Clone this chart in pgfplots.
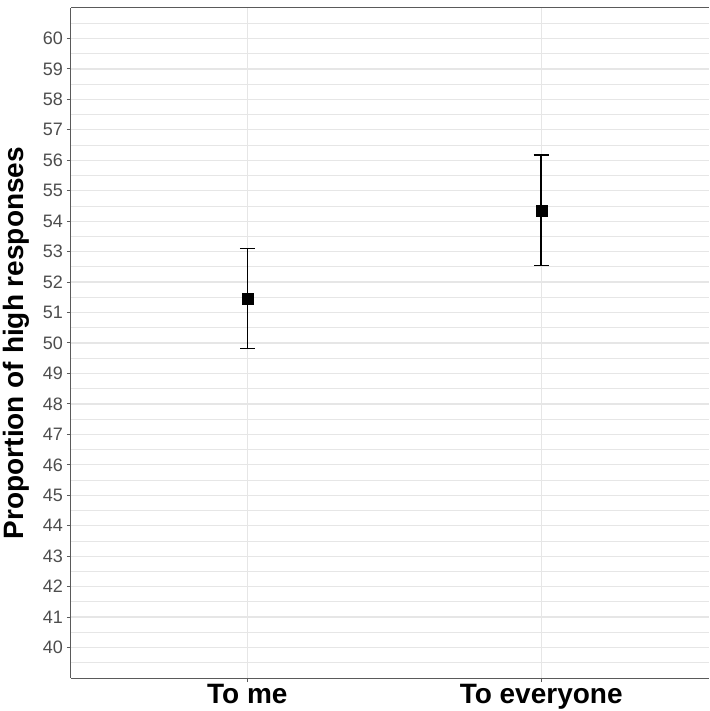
\documentclass[border=0pt]{standalone}
\usepackage{pgfplots}
\pgfplotsset{compat=1.18}
\usepackage{fontspec}
\setmainfont{Liberation Sans}
\definecolor{gridc}{HTML}{E6E6E6}
\definecolor{frame}{HTML}{5A5A5A}
\definecolor{ticklab}{HTML}{4D4D4D}
\begin{document}
\begin{tikzpicture}
\begin{axis}[
  scale only axis,
  width=638pt, height=670pt,
  xmin=0.4, xmax=2.571,
  ymin=39, ymax=61,
  axis x line*=box,
  axis y line*=left,
  axis line style={frame, line width=1pt},
  xtick={1,2},
  xticklabels={To me, To everyone},
  ytick={40,41,...,60},
  minor ytick={39.5,40.5,...,60.5},
  minor tick length=0pt,
  tick align=outside,
  major tick length=4pt,
  tick style={frame, line width=1pt},
  xtick pos=bottom, ytick pos=left,
  xmajorgrids, ymajorgrids, yminorgrids,
  major grid style={gridc, line width=1.2pt},
  minor grid style={gridc, line width=0.8pt},
  /pgf/number format/assume math mode=true,
  yticklabel style={font=\fontsize{18}{20}\selectfont, text=ticklab, inner sep=0pt, xshift=-4pt},
  xticklabel style={font=\fontsize{28}{32}\selectfont\bfseries, text=black, anchor=north, inner sep=0pt, yshift=-2pt},
  ylabel={Proportion of high responses},
  every axis y label/.style={at={(axis description cs:-0.1066,0.5)}, rotate=90, anchor=north, inner sep=0pt, font=\fontsize{28}{32}\selectfont\bfseries},
  clip=false,
]
\addplot[
  only marks, mark=square*, mark size=5.5pt, black,
  error bars/.cd, y dir=both, y explicit,
  error bar style={black, line width=1.5pt},
  error mark options={rotate=90, mark size=7.5pt, line width=1.5pt, black},
] table[x=x, y=y, y error plus=ep, y error minus=em] {
x y ep em
1 51.46 1.64 1.64
2 54.36 1.81 1.81
};
\end{axis}
\pgfresetboundingbox
\path (-71pt,-33pt) rectangle (638pt,678pt);
\end{tikzpicture}
\end{document}
